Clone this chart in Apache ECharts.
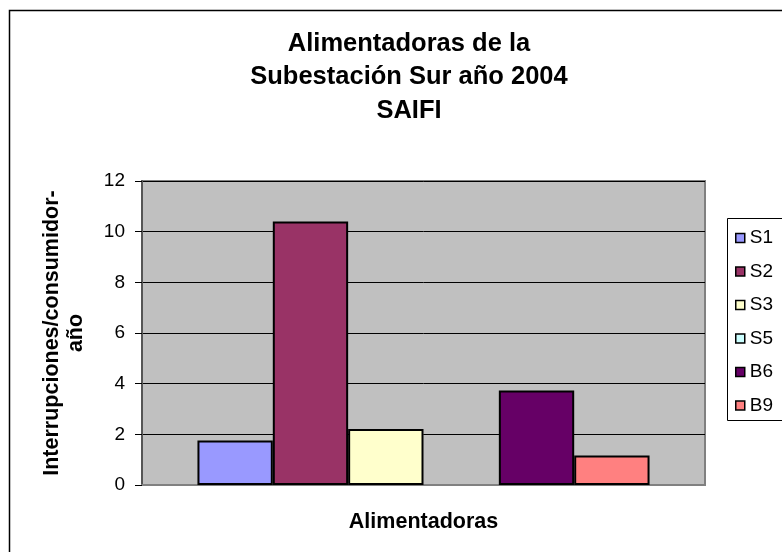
<!DOCTYPE html>
<html>
<head>
<meta charset="utf-8">
<script src="https://cdn.jsdelivr.net/npm/echarts@6/dist/echarts.min.js"></script>
<style>
  html, body { margin: 0; padding: 0; background: #fff; }
  #chart { width: 782px; height: 552px; }
</style>
</head>
<body>
<div id="chart"></div>
<script>
const categories = ['']
const seriesNames = ['S1', 'S2', 'S3', 'S5', 'B6', 'B9']
const seriesValues = [1.76, 10.4, 2.21, 0, 3.73, 1.16]
const seriesColors = ['#9999FF', '#993366', '#FFFFCC', '#CCFFFF', '#660066', '#FF8080']
const yTicks = [0, 2, 4, 6, 8, 10, 12]

const font = "'Liberation Sans', Arial, sans-serif"

const chart = echarts.init(document.getElementById('chart'))

chart.setOption({
  animation: false,
  backgroundColor: '#fff',
  textStyle: { fontFamily: font },
  title: {
    text: 'Alimentadoras de la\nSubestación Sur año 2004\nSAIFI',
    left: 404,
    top: 22,
    textAlign: 'center',
    textStyle: {
      fontFamily: font,
      fontSize: 25.5,
      fontWeight: 'bold',
      color: '#000',
      lineHeight: 33.5,
    },
  },
  graphic: [
    // chart area border (runs off the right and bottom edges)
    {
      type: 'rect',
      shape: { x: 9.5, y: 10.5, width: 900, height: 700 },
      style: { fill: 'none', stroke: '#000', lineWidth: 1.5 },
      silent: true,
    },
    // legend box
    {
      type: 'rect',
      shape: { x: 727.5, y: 218.5, width: 100, height: 202 },
      style: { fill: '#fff', stroke: '#000', lineWidth: 1 },
      silent: true,
      z: 0,
    },
  ],
  legend: {
    orient: 'vertical',
    left: 735,
    top: 228,
    padding: 0,
    itemWidth: 9,
    itemHeight: 9,
    itemGap: 13.5,
    icon: 'rect',
    data: seriesNames,
    itemStyle: { borderColor: '#000', borderWidth: 1.5 },
    textStyle: { fontFamily: font, fontSize: 19, color: '#000', lineHeight: 20 },
    z: 5,
  },
  grid: {
    left: 142,
    right: 77,
    top: 181,
    bottom: 67,
    show: true,
    backgroundColor: '#C0C0C0',
    borderColor: '#808080',
    borderWidth: 2,
  },
  xAxis: {
    type: 'category',
    data: categories,
    name: 'Alimentadoras',
    nameLocation: 'middle',
    nameGap: 26,
    nameTextStyle: { fontFamily: font, fontSize: 21.5, fontWeight: 'bold', color: '#000' },
    axisLine: { lineStyle: { color: '#808080', width: 2 } },
    axisTick: { show: false },
    axisLabel: { show: false },
  },
  yAxis: {
    type: 'value',
    min: yTicks[0],
    max: yTicks[yTicks.length - 1],
    interval: 2,
    name: 'Interrupciones/consumidor-\naño',
    nameLocation: 'middle',
    nameRotate: 90,
    nameGap: 54,
    nameTextStyle: { fontFamily: font, fontSize: 21.5, fontWeight: 'bold', color: '#000', lineHeight: 24 },
    axisLine: { show: true, lineStyle: { color: '#555', width: 2 } },
    axisTick: { show: true, length: 7, lineStyle: { color: '#000', width: 1 } },
    axisLabel: { fontFamily: font, fontSize: 19, color: '#000', margin: 17 },
    splitLine: { show: true, lineStyle: { color: '#000', width: 1 } },
  },
  series: seriesNames.map((name, i) => ({
    name,
    type: 'bar',
    data: [seriesValues[i]],
    barGap: 0,
    barCategoryGap: '19.7%',
    itemStyle: {
      color: seriesColors[i],
      borderColor: '#000',
      borderWidth: seriesValues[i] === 0 ? 0 : 2,
    },
  })),
})
</script>
</body>
</html>
